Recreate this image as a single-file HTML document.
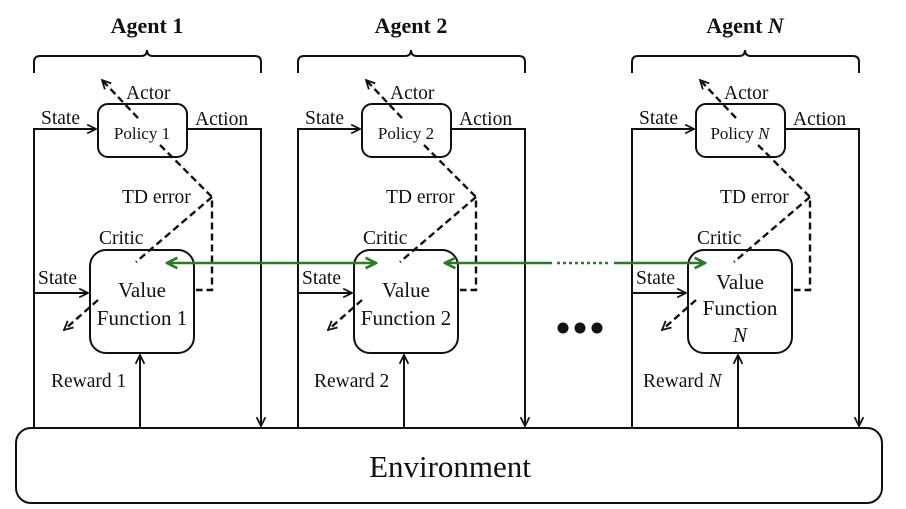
<!DOCTYPE html>
<html><head><meta charset="utf-8"><style>
html,body{margin:0;padding:0;background:#fff}
svg{display:block}
text{font-family:"Liberation Serif",serif;fill:#111}
</style></head><body>
<svg width="906" height="509" viewBox="0 0 906 509" xmlns="http://www.w3.org/2000/svg">
<defs>
<marker id="a" viewBox="0 0 10 10" refX="9" refY="5" markerWidth="11" markerHeight="11" orient="auto-start-reverse" markerUnits="userSpaceOnUse"><path d="M1,1 L9,5 L1,9" fill="none" stroke="#111" stroke-width="1.6"/></marker>
<marker id="g" viewBox="0 0 10 10" refX="9" refY="5" markerWidth="13" markerHeight="13" orient="auto-start-reverse" markerUnits="userSpaceOnUse"><path d="M1,1 L9,5 L1,9" fill="none" stroke="#2a7a2a" stroke-width="2"/></marker>
<g id="ag" fill="none" stroke="#111" stroke-width="2">
<path d="M34,73 V62 Q34,56 40,56 H141 Q147,56 147,50 Q147,56 153,56 H255 Q261,56 261,62 V73"/>
<rect x="98" y="104" width="89" height="53" rx="10"/>
<rect x="90" y="250" width="104" height="103" rx="16"/>
<path d="M34,428 V129 H96" marker-end="url(#a)"/>
<path d="M34,293 H88" marker-end="url(#a)"/>
<path d="M187,129 H261 V426" marker-end="url(#a)"/>
<path d="M140,428 V355" marker-end="url(#a)"/>
<g stroke-dasharray="7,4" stroke-width="2.4">
<path d="M138,118 L102,80" marker-end="url(#a)"/>
<path d="M160,145 L212,197 V290 H196"/>
<path d="M212,197 L136,262"/>
<path d="M98,300 L64,330" marker-end="url(#a)"/>
</g>
</g>
</defs>
<use href="#ag"/>
<use href="#ag" transform="translate(264,0)"/>
<use href="#ag" transform="translate(598,0)"/>
<rect x="16" y="428" width="866" height="75" rx="15" fill="#fff" stroke="#111" stroke-width="2"/>
<text x="450" y="477" font-size="31" text-anchor="middle">Environment</text>
<g stroke="#2a7a2a" stroke-width="2.5" fill="none">
<path d="M167,263 H376" marker-start="url(#g)" marker-end="url(#g)"/>
<path d="M445,263 H552" marker-start="url(#g)"/>
<path d="M557,263 H608" stroke-dasharray="3,3"/>
<path d="M614,263 H705" marker-end="url(#g)"/>
</g>
<g fill="#111"><circle cx="563" cy="328" r="5.5"/><circle cx="580" cy="328" r="5.5"/><circle cx="597" cy="328" r="5.5"/></g>
<g font-size="19.5">
<text x="147" y="33" font-weight="bold" font-size="22" text-anchor="middle">Agent 1</text>
<text x="411" y="33" font-weight="bold" font-size="22" text-anchor="middle">Agent 2</text>
<text x="745" y="33" font-weight="bold" font-size="22" text-anchor="middle">Agent <tspan font-style="italic">N</tspan></text>
<text x="126" y="99">Actor</text><text x="390" y="99">Actor</text><text x="724" y="99">Actor</text>
<text x="41" y="124">State</text><text x="305" y="124">State</text><text x="639" y="124">State</text>
<text x="195" y="125">Action</text><text x="459" y="125">Action</text><text x="793" y="125">Action</text>
<text x="142" y="139" font-size="17" text-anchor="middle">Policy 1</text>
<text x="406" y="139" font-size="17" text-anchor="middle">Policy 2</text>
<text x="740" y="139" font-size="17" text-anchor="middle">Policy <tspan font-style="italic">N</tspan></text>
<text x="122" y="203">TD error</text><text x="386" y="203">TD error</text><text x="720" y="203">TD error</text>
<text x="99" y="244">Critic</text><text x="363" y="244">Critic</text><text x="697" y="244">Critic</text>
<text x="38" y="284">State</text><text x="302" y="284">State</text><text x="636" y="284">State</text>
<g font-size="21">
<text x="142" y="297" text-anchor="middle">Value</text>
<text x="142" y="325" text-anchor="middle">Function 1</text>
<text x="406" y="297" text-anchor="middle">Value</text>
<text x="406" y="325" text-anchor="middle">Function 2</text>
<text x="740" y="289" text-anchor="middle">Value</text>
<text x="740" y="315" text-anchor="middle">Function</text>
<text x="740" y="342" text-anchor="middle" font-style="italic">N</text>
</g>
<text x="51" y="387">Reward 1</text><text x="314" y="387">Reward 2</text>
<text x="643" y="387">Reward <tspan font-style="italic">N</tspan></text>
</g>
</svg>
</body></html>
